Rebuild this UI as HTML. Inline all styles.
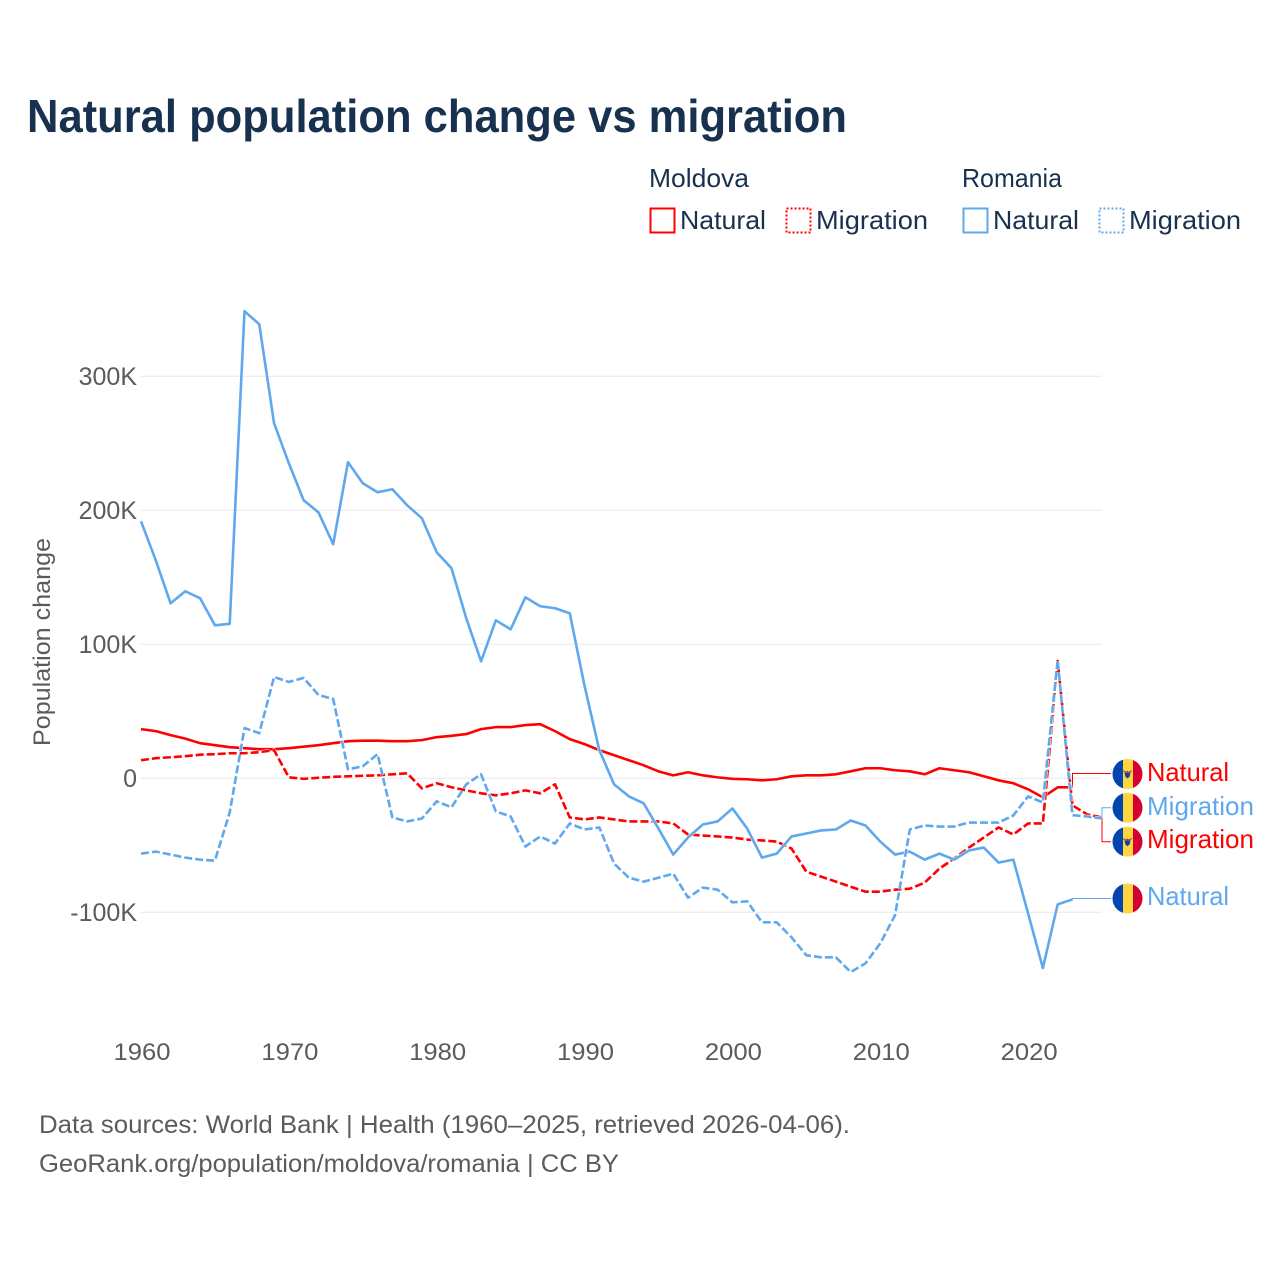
<!DOCTYPE html>
<html lang="en">
<head>
<meta charset="utf-8">
<title>Natural population change vs migration</title>
<style>
  html, body { margin: 0; padding: 0; background: #fff; }
  svg { display: block; font-family: "Liberation Sans", sans-serif; }
</style>
</head>
<body>
<svg id="chart" xmlns="http://www.w3.org/2000/svg" width="1280" height="1280" viewBox="0 0 1280 1280">
  <defs>
    <clipPath id="flag-clip"><circle cx="0" cy="0" r="15"></circle></clipPath>
    <g id="flag-stripes">
      <g clip-path="url(#flag-clip)">
        <rect x="-15" y="-15" width="10.5" height="30" fill="#0046ae"></rect>
        <rect x="-4.5" y="-15" width="10" height="30" fill="#ffd53d"></rect>
        <rect x="5.5" y="-15" width="10" height="30" fill="#d50032"></rect>
      </g>
    </g>
  </defs>
  <rect x="0" y="0" width="1280" height="1280" fill="#ffffff"></rect>

  <text x="27" y="132" font-size="46" font-weight="700" fill="#18314f" textLength="820" lengthAdjust="spacingAndGlyphs">Natural population change vs migration</text>

  <g font-size="26" fill="#18314f">
    <text x="649" y="187" textLength="100" lengthAdjust="spacingAndGlyphs">Moldova</text>
    <text x="962" y="187" textLength="100" lengthAdjust="spacingAndGlyphs">Romania</text>
    <g>
      <rect x="650.5" y="208.5" width="24" height="24" fill="none" stroke="#ff0000" stroke-width="2"></rect>
      <text x="680" y="229" textLength="86" lengthAdjust="spacingAndGlyphs">Natural</text>
    </g>
    <g>
      <rect x="786.5" y="208.5" width="24" height="24" fill="none" stroke="#ff0000" stroke-width="2" stroke-dasharray="2,2"></rect>
      <text x="816" y="229" textLength="112" lengthAdjust="spacingAndGlyphs">Migration</text>
    </g>
    <g>
      <rect x="963.5" y="208.5" width="24" height="24" fill="none" stroke="#5fa8ee" stroke-width="2"></rect>
      <text x="993" y="229" textLength="86" lengthAdjust="spacingAndGlyphs">Natural</text>
    </g>
    <g>
      <rect x="1099.5" y="208.5" width="24" height="24" fill="none" stroke="#5fa8ee" stroke-width="2" stroke-dasharray="2,2"></rect>
      <text x="1129" y="229" textLength="112" lengthAdjust="spacingAndGlyphs">Migration</text>
    </g>
  </g>

  <text transform="translate(50,642) rotate(-90)" text-anchor="middle" font-size="24" fill="#5b5b5b" textLength="208" lengthAdjust="spacingAndGlyphs">Population change</text>

  <g id="grid-layer"></g>
  <g id="tick-layer"></g>
  <g id="leader-layer"></g>
  <g id="series-layer"></g>

  <g font-size="26">
    <g transform="translate(1127.5,774)">
      <use href="#flag-stripes"></use>
      <path d="M0,-3 L3,-1.5 L2.2,2.5 L0,4.5 L-2.2,2.5 L-3,-1.5 Z" fill="#0046ae"></path>
      <path d="M-5,-4 L0,-2 L5,-4 L3,-1 L-3,-1 Z" fill="#c8502a"></path>
      <text x="19.5" y="7" fill="#ff0000" textLength="82" lengthAdjust="spacingAndGlyphs">Natural</text>
    </g>
    <g transform="translate(1127.5,807.7)">
      <use href="#flag-stripes"></use>
      <text x="19.5" y="7.3" fill="#5fa8ee" textLength="107" lengthAdjust="spacingAndGlyphs">Migration</text>
    </g>
    <g transform="translate(1127.5,841.7)">
      <use href="#flag-stripes"></use>
      <path d="M0,-3 L3,-1.5 L2.2,2.5 L0,4.5 L-2.2,2.5 L-3,-1.5 Z" fill="#0046ae"></path>
      <path d="M-5,-4 L0,-2 L5,-4 L3,-1 L-3,-1 Z" fill="#c8502a"></path>
      <text x="19.5" y="6.3" fill="#ff0000" textLength="107" lengthAdjust="spacingAndGlyphs">Migration</text>
    </g>
    <g transform="translate(1127.5,898.5)">
      <use href="#flag-stripes"></use>
      <text x="19.5" y="6.5" fill="#5fa8ee" textLength="82" lengthAdjust="spacingAndGlyphs">Natural</text>
    </g>
  </g>

  <g font-size="25" fill="#5b5b5b">
    <text x="39" y="1133" textLength="811" lengthAdjust="spacingAndGlyphs">Data sources: World Bank | Health (1960–2025, retrieved 2026-04-06).</text>
    <text x="39" y="1172" textLength="580" lengthAdjust="spacingAndGlyphs">GeoRank.org/population/moldova/romania | CC BY</text>
  </g>
</svg>

<script>
// Values in thousands of people; each series starts at 1960.
var startYear = 1960;
var xTickYears = [1960, 1970, 1980, 1990, 2000, 2010, 2020];
var yTickValues = [-100, 0, 100, 200, 300];
var yTickLabels = ["-100K", "0", "100K", "200K", "300K"];

var romaniaNatural = [191.8,162.7,130.6,139.6,134.3,114.2,115.3,348.6,338.8,265,
  235.1,207.5,198.5,174.7,235.9,220.2,213.5,215.7,203.8,194,
  168.7,156.8,119.4,87.3,117.9,111.2,135.1,128.4,126.9,123.2,
  68.9,21,-4.5,-13.5,-18.7,-37.5,-56.9,-44.2,-34.5,-32.2,
  -22.5,-37.5,-59.2,-56.2,-43.4,-41.2,-38.9,-38.2,-31.5,-35.2,
  -47.2,-56.9,-54.7,-60.7,-56.2,-60.7,-53.9,-51.7,-62.9,-60.7,
  -100.8,-141.6,-94.1,-90.4];

var romaniaMigration = [-56.2,-54.7,-56.9,-59.2,-60.7,-61.4,-25.5,37.5,33.7,75.6,
  71.9,74.9,62.2,59.2,6.7,9,18,-29.2,-32.2,-30,
  -17.2,-21.7,-4.5,3,-24.7,-28.5,-50.9,-43.4,-48.7,-33.7,
  -38.2,-36.7,-63.7,-74.2,-77.1,-74.2,-71.2,-89.1,-81.6,-83.1,
  -92.6,-91.8,-107.5,-107.5,-118.7,-132.1,-133.6,-133.6,-144.6,-138.1,
  -123.2,-102.2,-38.2,-35.2,-36,-36,-33,-33,-33,-27.7,
  -13.5,-18,88.2,-27.5,-28.5,-30];

var moldovaNatural = [36.7,35.2,32.2,29.6,26.2,24.7,23.2,22.5,21.7,21.7,
  22.5,23.6,24.7,26.2,27.7,28.1,28.1,27.7,27.7,28.5,
  30.7,31.7,33,36.7,38.2,38.2,39.7,40.4,35.2,29.2,
  25.5,21,17.2,13.5,9.7,5.2,2.2,4.5,2.2,0.7,
  -0.4,-0.7,-1.5,-0.7,1.5,2.2,2.2,3,5.2,7.5,
  7.5,6,5.2,3,7.5,6,4.5,1.5,-1.5,-3.7,
  -8.2,-14.2,-6.7,-6.7];

var moldovaMigration = [13.5,15,15.7,16.5,17.6,18,18.7,18.7,19.5,21,
  0.7,-0.4,0.4,1.1,1.5,1.9,2.2,3,3.7,-7.5,
  -3.7,-6.7,-9,-11.2,-12.7,-11.2,-9,-11.2,-4.5,-29.2,
  -30.7,-29.2,-30.7,-32.2,-32.2,-32.2,-33.7,-41.9,-42.7,-43.4,
  -44.2,-45.7,-46.4,-47.2,-52.4,-69.7,-73.4,-77.1,-80.9,-84.6,
  -84.6,-83.1,-82.4,-77.9,-67.4,-59.9,-51.7,-44.2,-36.7,-41.9,
  -33.7,-33.7,87.6,-20.2,-27,-29.2];

var SVG_NS = "http://www.w3.org/2000/svg";
var RED = "#ff0000";
var BLUE = "#5fa8ee";

function sx(year) { return 141 + (year - 1960) * 14.785; }
function sy(value) { return 778.3 - value * 1.34; }

function make(tag, parent) {
  var el = document.createElementNS(SVG_NS, tag);
  parent.appendChild(el);
  return el;
}

var gridLayer = document.getElementById("grid-layer");
var tickLayer = document.getElementById("tick-layer");
var leaderLayer = document.getElementById("leader-layer");
var seriesLayer = document.getElementById("series-layer");

yTickValues.forEach(function (v, i) {
  var line = make("line", gridLayer);
  
  
  line.setAttribute("x1", sx(1960));
  line.setAttribute("x2", sx(2025));
  line.setAttribute("y1", sy(v));
  line.setAttribute("y2", sy(v));
  line.setAttribute("stroke", "#e8e8e8");
  line.setAttribute("stroke-width", "1");

  var label = make("text", tickLayer);
  
  
  label.setAttribute("x", 137);
  label.setAttribute("y", sy(v) + 8.7);
  label.setAttribute("text-anchor", "end");
  label.setAttribute("font-size", "25");
  label.setAttribute("fill", "#5b5b5b");
  label.textContent = yTickLabels[i];
});

xTickYears.forEach(function (year) {
  var label = make("text", tickLayer);
  
  
  label.setAttribute("x", sx(year) + 1);
  label.setAttribute("y", 1060);
  label.setAttribute("text-anchor", "middle");
  label.setAttribute("font-size", "24");
  label.setAttribute("fill", "#5b5b5b");
  label.setAttribute("textLength", "57");
  label.setAttribute("lengthAdjust", "spacingAndGlyphs");
  label.textContent = String(year);
});

function pointsFor(values) {
  return values.map(function (v, i) {
    return sx(startYear + i).toFixed(2) + "," + sy(v).toFixed(2);
  }).join(" ");
}

function drawSeries(values, color, dashed, name) {
  var halo = make("polyline", seriesLayer);
  
  
  halo.setAttribute("points", pointsFor(values));
  halo.setAttribute("fill", "none");
  halo.setAttribute("stroke", "#ffffff");
  halo.setAttribute("stroke-width", "3.6");
  halo.setAttribute("stroke-linejoin", "round");
  if (dashed) { halo.setAttribute("stroke-dasharray", "8,3"); }

  var line = make("polyline", seriesLayer);
  
  
  line.setAttribute("points", pointsFor(values));
  line.setAttribute("fill", "none");
  line.setAttribute("stroke", color);
  line.setAttribute("stroke-width", "2.6");
  line.setAttribute("stroke-linejoin", "round");
  if (dashed) { line.setAttribute("stroke-dasharray", "8,3"); }
}

function drawLeader(values, color, labelY, bendX, name) {
  var lastX = sx(startYear + values.length - 1);
  var lastY = sy(values[values.length - 1]);
  var path = make("path", leaderLayer);
  
  
  path.setAttribute("d", "M" + lastX + "," + lastY + " H" + bendX + " V" + labelY + " H1111");
  path.setAttribute("fill", "none");
  path.setAttribute("stroke", color);
  path.setAttribute("stroke-width", "1");
}

drawLeader(moldovaNatural, RED, 773.5, 1072.5, "leader-moldova-natural");
drawLeader(romaniaMigration, BLUE, 807.7, 1102, "leader-romania-migration");
drawLeader(moldovaMigration, RED, 841.7, 1102, "leader-moldova-migration");
drawLeader(romaniaNatural, BLUE, 898.5, 1072.5, "leader-romania-natural");

drawSeries(moldovaNatural, RED, false, "line-moldova-natural");
drawSeries(moldovaMigration, RED, true, "line-moldova-migration");
drawSeries(romaniaNatural, BLUE, false, "line-romania-natural");
drawSeries(romaniaMigration, BLUE, true, "line-romania-migration");
</script>
</body>
</html>
